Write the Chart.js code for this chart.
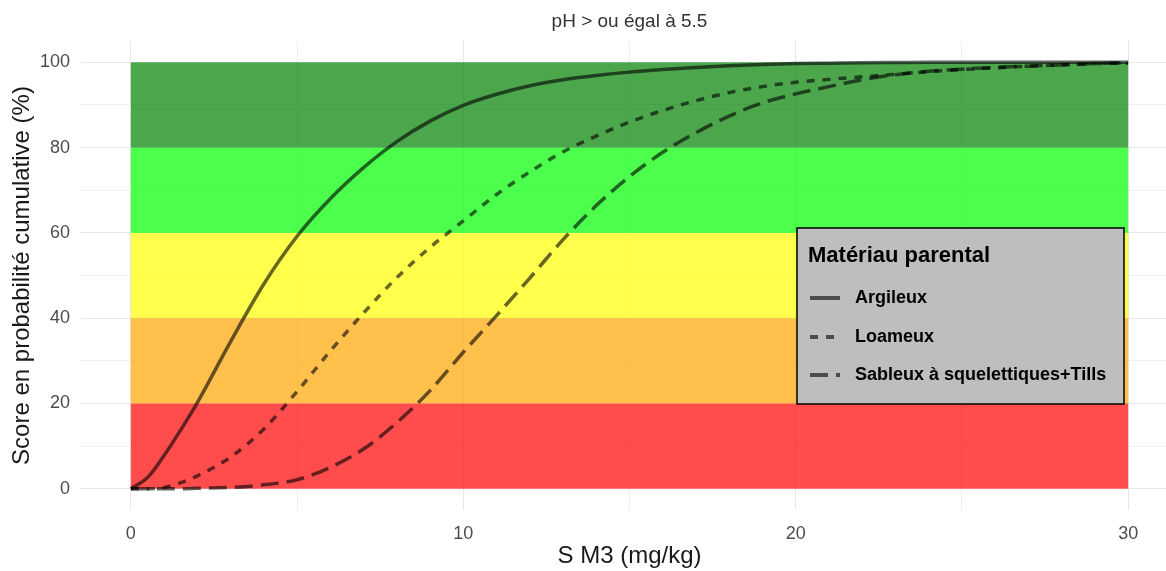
<!DOCTYPE html>
<html>
<head>
<meta charset="utf-8">
<script src="https://cdn.jsdelivr.net/npm/chart.js@4"></script>
<style>
  html, body { margin: 0; padding: 0; background: #fff; overflow: hidden; }
  #wrap { width: 1178px; height: 571px; }
</style>
</head>
<body>
<div id="wrap"><canvas id="chart" width="1178" height="571"></canvas></div>
<script>
// S M3 (mg/kg)
var sm3 = [0, 0.5, 1, 1.5, 2, 3, 4, 5, 6, 7, 8, 9, 10, 11, 12, 13, 14, 15, 16, 17, 18, 19, 20,
           21, 22, 23, 24, 25, 26, 27, 28, 29, 30];

// score en probabilité cumulative (%)
var argileux = [0, 2.6, 7.8, 13.8, 20.2, 34.5, 48, 59.2, 68, 75.3, 81.4, 86.2, 89.9,
                92.5, 94.5, 95.9, 96.9, 97.7, 98.3, 98.8, 99.2, 99.5, 99.7,
                99.8, 99.9, 99.95, 100, 100, 100, 100, 100, 100, 100];
var loameux = [0, 0, 0.3, 1.4, 3, 7.4, 14, 22.8, 32.3, 41.2, 49.5, 56.6, 62.8,
               69, 74.3, 79, 82.7, 86, 88.7, 91, 92.9, 94.3, 95.3,
               96, 96.6, 97.2, 97.8, 98.3, 98.7, 99.1, 99.4, 99.7, 99.8];
var sableux = [0, 0, 0, 0, 0.1, 0.3, 0.9, 2.1, 5, 9.3, 15.5, 23, 32,
               40.6, 49.4, 58.4, 66.4, 73.2, 78.9, 83.5, 87.4, 90.5, 92.6,
               94.3, 95.9, 97.1, 97.9, 98.4, 98.8, 99.1, 99.4, 99.7, 99.9];

// colour bands
var bandLow = [0, 20, 40, 60, 80];
var bandHigh = [20, 40, 60, 80, 100];
var bandColors = ["rgba(255,0,0,0.7)", "rgba(255,165,0,0.7)", "rgba(255,255,0,0.7)",
                  "rgba(0,255,0,0.7)", "rgba(0,128,0,0.7)"];
var bandXmin = 0, bandXmax = 30;

// grid lines (major + minor) and labelled ticks
var xGrid = [0, 5, 10, 15, 20, 25, 30];
var yGrid = [0, 10, 20, 30, 40, 50, 60, 70, 80, 90, 100];
var xLabelTicks = [0, 10, 20, 30];
var yLabelTicks = [0, 20, 40, 60, 80, 100];

var FONT = "'Liberation Sans', Arial, sans-serif";
var lineColor = "rgba(0,0,0,0.6)";

function pts(ys) {
    return sm3.map(function (x, i) { return { x: x, y: ys[i] }; });
}

// background bands, under the lines
var bands = {
    id: "bands",
    beforeDatasetsDraw: function (chart) {
        var ctx = chart.ctx, xs = chart.scales.x, ys = chart.scales.y;
        ctx.save();
        for (var i = 0; i < bandLow.length; i++) {
            var x0 = xs.getPixelForValue(bandXmin), x1 = xs.getPixelForValue(bandXmax);
            var y0 = ys.getPixelForValue(bandHigh[i]), y1 = ys.getPixelForValue(bandLow[i]);
            ctx.fillStyle = bandColors[i];
            ctx.fillRect(x0, y0, x1 - x0, y1 - y0);
        }
        ctx.restore();
    }
};

// title + legend box
var deco = {
    id: "deco",
    afterDraw: function (chart) {
        var ctx = chart.ctx;
        ctx.save();
        ctx.fillStyle = "#333";
        ctx.font = "19px " + FONT;
        ctx.textAlign = "center";
        ctx.textBaseline = "middle";
        ctx.fillText("pH > ou égal à 5.5", chart.scales.x.getPixelForValue(15), 22);

        // legend
        var bx = 797, by = 228, bw = 327, bh = 176;
        ctx.fillStyle = "#bebebe";
        ctx.fillRect(bx, by, bw, bh);
        ctx.strokeStyle = "#000";
        ctx.lineWidth = 1.5;
        ctx.strokeRect(bx, by, bw, bh);

        ctx.fillStyle = "#000";
        ctx.textAlign = "left";
        ctx.font = "bold 22px " + FONT;
        ctx.fillText("Matériau parental", 808, 256);

        ctx.font = "bold 18px " + FONT;
        var rows = [298, 337, 375];
        chart.data.datasets.forEach(function (ds, i) {
            var y = rows[i];
            ctx.strokeStyle = lineColor;
            ctx.lineWidth = 4;
            ctx.setLineDash(ds.borderDash || []);
            ctx.beginPath();
            ctx.moveTo(810, y);
            ctx.lineTo(840, y);
            ctx.stroke();
            ctx.setLineDash([]);
            ctx.fillStyle = "#000";
            ctx.fillText(ds.label, 855, y);
        });
        ctx.restore();
    }
};

new Chart(document.getElementById("chart"), {
    type: "line",
    data: {
        datasets: [{
            label: "Argileux",
            data: pts(argileux),
            borderColor: lineColor,
            borderWidth: 3.5,
            pointRadius: 0,
            cubicInterpolationMode: "monotone",
            fill: false
        }, {
            label: "Loameux",
            data: pts(loameux),
            borderColor: lineColor,
            borderWidth: 3.5,
            borderDash: [8, 8],
            pointRadius: 0,
            cubicInterpolationMode: "monotone",
            fill: false
        }, {
            label: "Sableux à squelettiques+Tills",
            data: pts(sableux),
            borderColor: lineColor,
            borderWidth: 3.5,
            borderDash: [18, 8],
            pointRadius: 0,
            cubicInterpolationMode: "monotone",
            fill: false
        }]
    },
    options: {
        responsive: false,
        animation: false,
        layout: { padding: { top: 41, right: 0, left: 0, bottom: 0 } },
        plugins: {
            legend: { display: false },
            tooltip: { enabled: false },
            title: { display: false }
        },
        scales: {
            x: {
                type: "linear",
                min: -1.5,
                max: 31.5,
                border: { display: false },
                grid: {
                    drawTicks: false,
                    color: function (c) {
                        return c.tick && c.tick.value % 10 === 0 ? "#e6e6e6" : "#efefef";
                    }
                },
                afterBuildTicks: function (s) {
                    s.ticks = xGrid.map(function (v) { return { value: v }; });
                },
                ticks: {
                    autoSkip: false,
                    maxRotation: 0,
                    padding: 13,
                    color: "#4d4d4d",
                    font: { family: FONT, size: 18 },
                    callback: function (v) { return xLabelTicks.indexOf(v) >= 0 ? v : ""; }
                },
                title: {
                    display: true,
                    text: "S M3 (mg/kg)",
                    color: "#1a1a1a",
                    font: { family: FONT, size: 24 },
                    padding: { top: 0, bottom: 0 }
                },
                afterFit: function (s) { s.height = 61; }
            },
            y: {
                min: -5,
                max: 105,
                border: { display: false },
                grid: {
                    drawTicks: false,
                    color: function (c) {
                        return c.tick && c.tick.value % 20 === 0 ? "#e6e6e6" : "#efefef";
                    }
                },
                afterBuildTicks: function (s) {
                    s.ticks = yGrid.map(function (v) { return { value: v }; });
                },
                ticks: {
                    autoSkip: false,
                    padding: 11,
                    color: "#4d4d4d",
                    font: { family: FONT, size: 18 },
                    callback: function (v) { return yLabelTicks.indexOf(v) >= 0 ? v : ""; }
                },
                title: {
                    display: true,
                    text: "Score en probabilité cumulative (%)",
                    color: "#1a1a1a",
                    font: { family: FONT, size: 24 },
                    padding: { top: 8, bottom: 0 }
                },
                afterFit: function (s) { s.width = 81; }
            }
        }
    },
    plugins: [bands, deco]
});
</script>
</body>
</html>
